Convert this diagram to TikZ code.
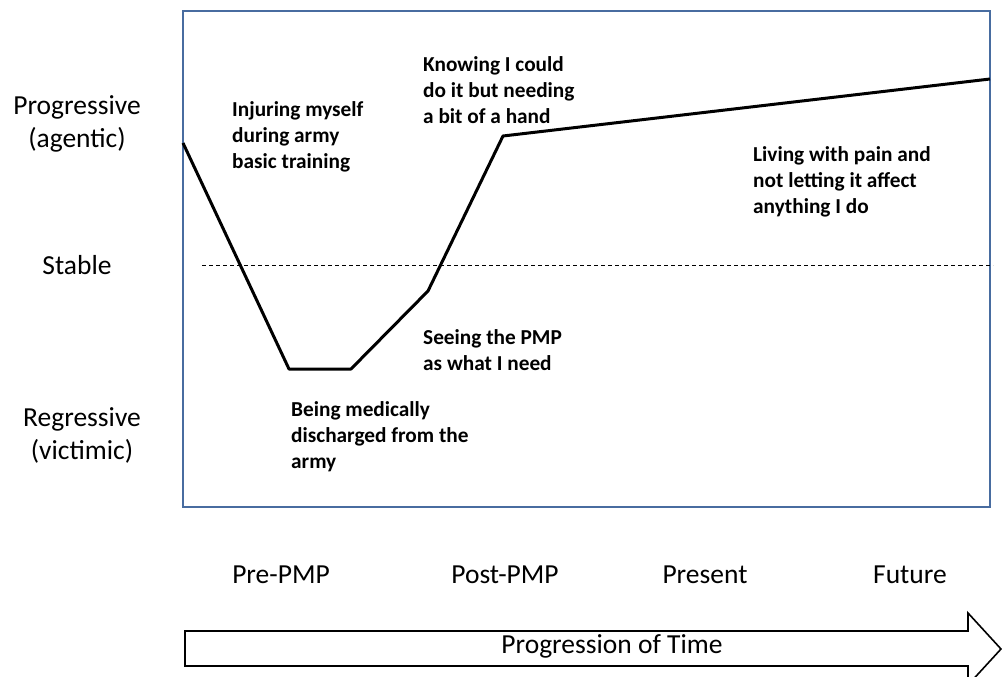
\documentclass[tikz,border=0pt]{standalone}
\usepackage{fontspec}
\setmainfont{Carlito}
\definecolor{frameblue}{RGB}{72,108,160}
\newcommand\notelines[1]{\begin{tabular}[t]{@{}l@{}}#1\end{tabular}}
\newcommand\axislines[1]{\begin{tabular}[t]{@{}c@{}}#1\end{tabular}}
\tikzset{
  note/.style={anchor=base west, inner sep=0pt, font=\fontsize{21.3}{26}\selectfont\bfseries},
  axislabel/.style={anchor=base, inner sep=0pt, font=\fontsize{27.5}{33.5}\selectfont},
  frame/.style={draw=frameblue, line width=2.6pt},
  path line/.style={draw=black, line width=3pt, line join=round},
  stableline/.style={draw=black, line width=0.9pt, dash pattern=on 4pt off 3pt},
  timearrow/.style={draw=black, line width=1.6pt, fill=white, line join=miter}
}
\begin{document}
\begin{tikzpicture}[x=1pt, y=-1pt]
  \useasboundingbox (0,0) rectangle (1002,677);

  % chart frame
  \draw[frame] (183,11) rectangle (990,507);

  % stable reference level
  \coordinate (s0) at (202,265);
  \coordinate (s1) at (993,265);
  \draw[stableline] (s0) -- (s1);

  % trajectory
  \coordinate (p0) at (183,143);
  \coordinate (p1) at (289,369);
  \coordinate (p2) at (351,369);
  \coordinate (p3) at (428,291);
  \coordinate (p4) at (503,136);
  \coordinate (p5) at (990,79);
  \draw[path line] (p0) -- (p1) -- (p2) -- (p3) -- (p4) -- (p5);

  % vertical scale labels
  \node[axislabel] (prog) at (77,114) {\axislines{Progressive\\(agentic)}};
  \node[axislabel] (stab) at (77,274) {Stable};
  \node[axislabel] (regr) at (82,426) {\axislines{Regressive\\(victimic)}};

  % events along the trajectory
  \node[note] (injure) at (232,117) {\notelines{Injuring myself\\during army\\basic training}};
  \node[note] (know) at (423,71) {\notelines{Knowing I could\\do it but needing\\a bit of a hand}};
  \node[note] (live) at (753,161.5) {\notelines{Living with pain and\\not letting it affect\\anything I do}};
  \node[note] (see) at (423,344) {\notelines{Seeing the PMP\\as what I need}};
  \node[note] (disch) at (291,416) {\notelines{Being medically\\discharged from the\\army}};

  % phases
  \node[axislabel] (pre) at (281,583) {Pre-PMP};
  \node[axislabel] (post) at (505,583) {Post-PMP};
  \node[axislabel] (now) at (705,583) {Present};
  \node[axislabel] (fut) at (910,583) {Future};

  % time arrow
  \draw[timearrow] (185,631) -- (968,631) -- (968,613) -- (1001,649)
    -- (968,685) -- (968,666) -- (185,666) -- cycle;
  \node[axislabel] (time) at (612,653) {Progression of Time};
\end{tikzpicture}
\end{document}
